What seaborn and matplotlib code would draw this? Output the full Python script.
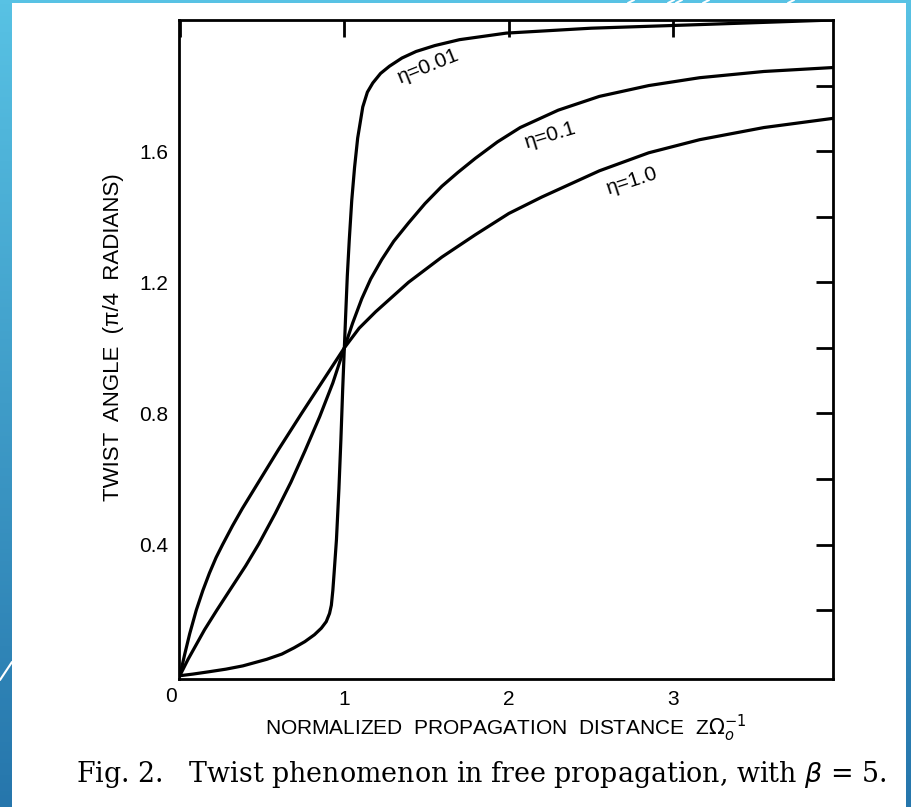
import numpy as np
import pandas as pd
import matplotlib
matplotlib.use("Agg")
import matplotlib.pyplot as plt
from matplotlib.patches import Rectangle
from matplotlib.lines import Line2D
import seaborn as sns

# ---- data ----
x_eta001 = [0, 0.08, 0.176, 0.28, 0.383, 0.528, 0.62, 0.694, 0.76, 0.818, 0.86, 0.89,
            0.91, 0.921, 0.93, 0.938, 0.952, 0.967, 0.979, 0.99, 1.0, 1.008, 1.018, 1.03,
            1.045, 1.062, 1.081, 1.112, 1.14, 1.173, 1.22, 1.274, 1.35, 1.436, 1.55, 1.70,
            1.984, 2.5, 3.16, 3.97]
y_eta001 = [0, 0.005, 0.012, 0.02, 0.03, 0.05, 0.066, 0.085, 0.104, 0.125, 0.145, 0.165,
            0.19, 0.215, 0.26, 0.315, 0.415, 0.57, 0.72, 0.875, 1.0, 1.1, 1.22, 1.33,
            1.45, 1.55, 1.64, 1.735, 1.78, 1.808, 1.837, 1.859, 1.884, 1.904, 1.922, 1.940,
            1.960, 1.975, 1.986, 2.0]
x_eta01 = [0, 0.05, 0.1, 0.15, 0.225, 0.3, 0.4, 0.48, 0.58, 0.675, 0.76, 0.85, 0.93, 1.0,
           1.05, 1.106, 1.16, 1.227, 1.3, 1.39, 1.49, 1.593, 1.69, 1.796, 1.93, 2.069, 2.3,
           2.55, 2.85, 3.16, 3.55, 3.97]
y_eta01 = [0, 0.05, 0.095, 0.14, 0.2, 0.258, 0.335, 0.402, 0.495, 0.59, 0.685, 0.79,
           0.893, 1.0, 1.075, 1.15, 1.21, 1.269, 1.325, 1.381, 1.44, 1.493, 1.535, 1.578,
           1.628, 1.672, 1.725, 1.767, 1.80, 1.824, 1.843, 1.855]
x_eta1 = [0, 0.03, 0.06, 0.1, 0.14, 0.18, 0.22, 0.26, 0.32, 0.38, 0.49, 0.6, 0.74, 0.87,
          1.0, 1.09, 1.19, 1.39, 1.593, 1.796, 2.0, 2.2, 2.55, 2.85, 3.16, 3.55, 3.97]
y_eta1 = [0, 0.066, 0.128, 0.2, 0.26, 0.313, 0.36, 0.4, 0.457, 0.51, 0.6, 0.69, 0.8, 0.9,
          1.0, 1.06, 1.11, 1.2, 1.277, 1.345, 1.41, 1.46, 1.54, 1.595, 1.635, 1.672, 1.70]

curve_labels = ["η=0.01", "η=0.1", "η=1.0"]
x_ticks = [0, 1, 2, 3]
x_ticklabels = ["", "1", "2", "3"]
y_ticks = [0.2, 0.4, 0.6, 0.8, 1.0, 1.2, 1.4, 1.6, 1.8]
y_ticklabels = ["", "0.4", "", "0.8", "", "1.2", "", "1.6", ""]

df = pd.concat([
    pd.DataFrame({"x": x_eta001, "y": y_eta001, "eta": curve_labels[0]}),
    pd.DataFrame({"x": x_eta01, "y": y_eta01, "eta": curve_labels[1]}),
    pd.DataFrame({"x": x_eta1, "y": y_eta1, "eta": curve_labels[2]}),
])

sns.set_style("white")
plt.rcParams["font.family"] = ["Liberation Sans", "DejaVu Sans"]
for k in ["text.color", "axes.labelcolor", "xtick.color", "ytick.color"]:
    plt.rcParams[k] = "black"

W, H = 912, 807
fig = plt.figure(figsize=(W / 100, H / 100), dpi=100)

# slide background: blue gradient with white content panel
bg = fig.add_axes([0, 0, 1, 1], zorder=-10)
t = np.linspace(0, 1, 200)[:, None]
top = np.array([88, 194, 228]) / 255
bot = np.array([38, 118, 172]) / 255
grad = top[None, None, :] * (1 - t[..., None]) + bot[None, None, :] * t[..., None]
grad = np.repeat(grad, 4, axis=1)
bg.imshow(grad, aspect="auto", extent=[0, 1, 0, 1], origin="upper")
bg.add_patch(Rectangle((12 / W, 0), (906 - 12) / W, (H - 3) / H, transform=bg.transAxes,
                       facecolor="white", edgecolor="none"))
for (xa, ya, xb, yb) in [(0, H - 680, 12, H - 662), (628, H - 3, 634, H),
                         (668, H - 3, 674, H), (676, H - 3, 682, H), (703, H - 3, 709, H),
                         (788, H - 3, 794, H)]:
    bg.add_line(Line2D([xa / W, xb / W], [ya / H, yb / H], color="white", lw=1.5,
                       transform=bg.transAxes))
bg.set_xlim(0, 1)
bg.set_ylim(0, 1)
bg.axis("off")

ax = fig.add_axes([179 / W, (H - 679) / H, (833 - 179) / W, (679 - 20) / H])
sns.lineplot(data=df, x="x", y="y", hue="eta", palette=["black"] * 3, lw=2.3,
             legend=False, ax=ax, sort=False, estimator=None)
ax.set_xlim(-0.005, 3.97)
ax.set_ylim(-0.01, 2.0)

for s in ax.spines.values():
    s.set_linewidth(2.0)
    s.set_color("black")

ax.set_xticks(x_ticks)
ax.set_xticklabels(x_ticklabels)
ax.set_yticks(y_ticks)
ax.set_yticklabels(y_ticklabels)
ax.tick_params(direction="in", length=12, width=2, top=True, right=True,
               labelsize=15, pad=8, colors="black")
ax.annotate("0", xy=(0, 0), xytext=(-6, -8), textcoords="offset points",
            ha="center", va="top", fontsize=15)

ax.set_xlabel(r"NORMALIZED  PROPAGATION  DISTANCE  Z$\Omega_o^{-1}$", fontsize=15)
ax.set_ylabel("TWIST  ANGLE  (π/4  RADIANS)", fontsize=16)
ax.xaxis.set_label_coords(0.5, -(713 - 679) / 659)
ax.yaxis.set_label_coords((124 - 179) / 654, (679 - 337) / 659)

label_pos = [(1.51, 1.86, 22), (2.25, 1.65, 17), (2.75, 1.51, 18)]
for lab, (lx, ly, rot) in zip(curve_labels, label_pos):
    ax.text(lx, ly, lab, rotation=rot, ha="center", va="center", fontsize=15,
            rotation_mode="anchor", color="black")

fig.text(481 / W, 1 - 774 / H,
         "Fig. 2.   Twist phenomenon in free propagation, with $\\beta$ = 5.",
         ha="center", va="center", fontsize=19.4, family="DejaVu Serif", color="black")

fig.savefig("out.png", dpi=100)
